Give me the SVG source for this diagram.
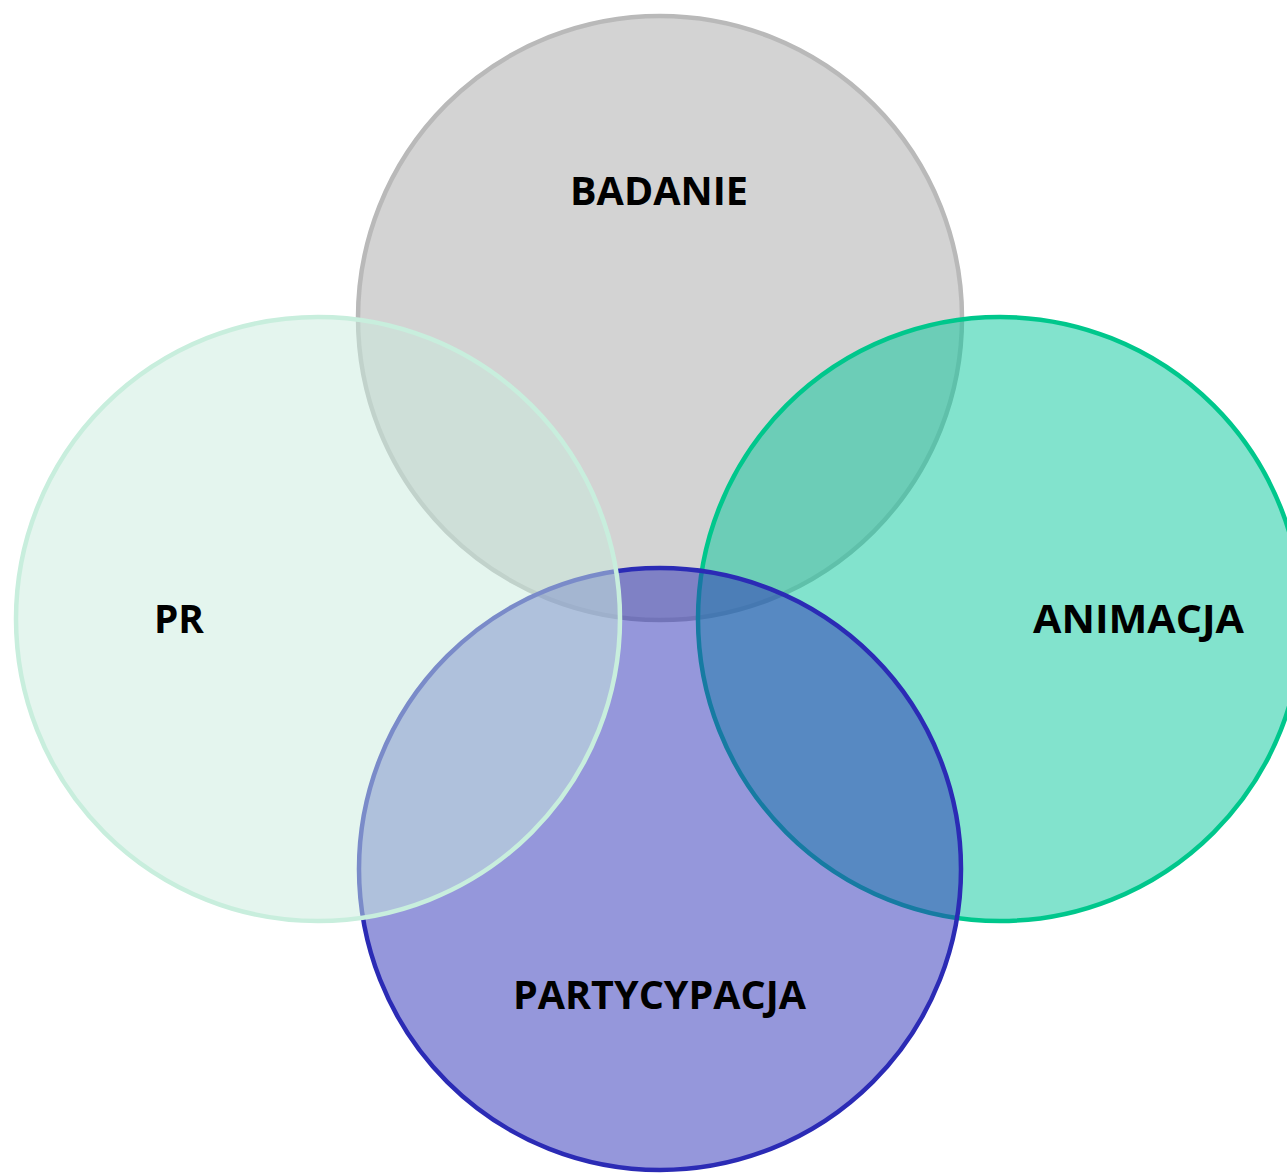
<svg xmlns="http://www.w3.org/2000/svg" width="1287" height="1173" viewBox="0 0 1287 1173">
<style>
.c{stroke-width:4.5}
.lbl{font-family:"Open Sans","Liberation Sans",Arial,sans-serif;font-weight:bold;font-size:39px;fill:#000;text-anchor:middle}
</style>
<rect width="1287" height="1173" fill="#fff"/>
<g id="badanie">
<circle class="c" cx="660" cy="318" r="302" fill="#d3d3d3" stroke="#b9b9b9"/>
<text class="lbl" x="659" y="205" textLength="178" lengthAdjust="spacingAndGlyphs">BADANIE</text>
</g>
<g id="animacja">
<circle class="c" cx="1000" cy="619" r="302" fill="#05c79b" fill-opacity="0.5" stroke="#00c78c"/>
<text class="lbl" x="1138.5" y="633" textLength="211" lengthAdjust="spacingAndGlyphs">ANIMACJA</text>
</g>
<g id="partycypacja">
<circle class="c" cx="660" cy="869" r="301" fill="#2b2fb7" fill-opacity="0.5" stroke="#2b2bb5"/>
<text class="lbl" x="659.5" y="1009" textLength="293" lengthAdjust="spacingAndGlyphs">PARTYCYPACJA</text>
</g>
<g id="pr">
<circle class="c" cx="318" cy="619" r="302" fill="#c9ebdd" fill-opacity="0.5" stroke="#c8eedd"/>
<text class="lbl" x="179" y="633" textLength="50" lengthAdjust="spacingAndGlyphs">PR</text>
</g>
<g id="connectors"/>
</svg>
